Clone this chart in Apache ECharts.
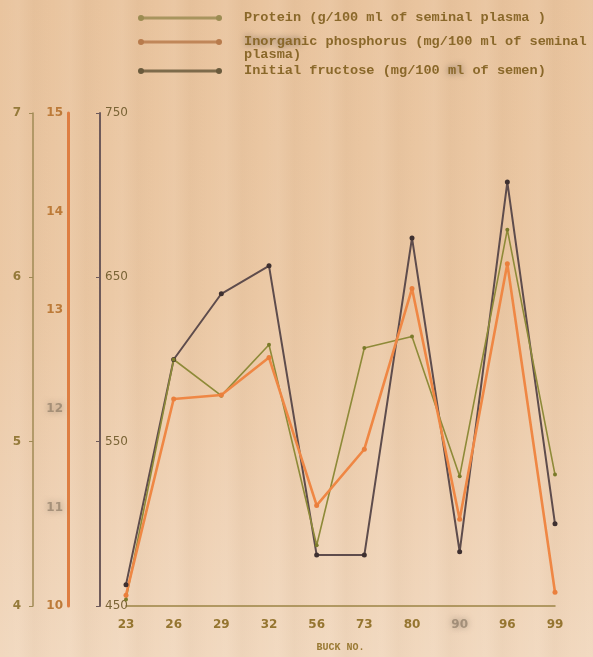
<!DOCTYPE html>
<html>
<head>
<meta charset="utf-8">
<script src="https://cdn.jsdelivr.net/npm/echarts@6/dist/echarts.min.js"></script>
<style>
  html, body { margin: 0; padding: 0; }
  body {
    width: 593px; height: 657px; overflow: hidden;
    background:
      repeating-linear-gradient(to right,
        rgba(255,255,255,0.00) 0px, rgba(255,255,255,0.05) 18px,
        rgba(120,80,40,0.03) 34px, rgba(255,255,255,0.00) 52px),
      linear-gradient(to bottom, #e9c49e 0%, #ebc8a4 45%, #efd2b5 80%, #f1d8be 100%);
  }
  #chart { width: 593px; height: 657px; }
</style>
</head>
<body>
<div id="chart"></div>
<script>
// Buck numbers along the x axis
const buckNo = ['23', '26', '29', '32', '56', '73', '80', '90', '96', '99'];
// Protein, g/100 ml of seminal plasma
const protein = [4.04, 5.50, 5.28, 5.59, 4.37, 5.57, 5.64, 4.79, 6.29, 4.80];
// Inorganic phosphorus, mg/100 ml of seminal plasma
const phosphorus = [10.11, 12.10, 12.14, 12.52, 11.02, 11.59, 13.22, 10.88, 13.47, 10.14];
// Initial fructose, mg/100 ml of semen
const fructose = [463, 600, 640, 657, 481, 481, 674, 483, 708, 500];

// Axis tick values
const proteinTicks = [4, 5, 6, 7];
const phosphorusTicks = [10, 11, 12, 13, 14, 15];
const fructoseTicks = [450, 550, 650, 750];

const cGreen = '#8e8a38';
const cOrange = '#ef8744';
const cDark = '#5e4c4c';
const ink = '#8a682a';

// smudged, barely readable lettering
const smudge = {
  color: 'rgba(128,112,92,0.6)',
  textShadowColor: 'rgba(120,105,88,1)',
  textShadowBlur: 6
};

const chart = echarts.init(document.getElementById('chart'), null, { renderer: 'canvas' });

const legendFont = 'bold 13.6px "Liberation Mono", "DejaVu Sans Mono", monospace';
const legendRows = [
  { y: 18, color: '#9c8c52', text: 'Protein (g/100 ml of seminal plasma )' },
  { y: 42, color: '#b87b4c', text: '{s|Inorgan}ic phosphorus (mg/100 ml of seminal\nplasma)' },
  { y: 71, color: '#6a5a3c', text: 'Initial fructose (mg/100 {s|ml} of semen)' }
];

const graphic = [];
legendRows.forEach(r => {
  graphic.push({
    type: 'line', shape: { x1: 141, y1: r.y, x2: 219, y2: r.y },
    style: { stroke: r.color, lineWidth: 3, opacity: 0.85 }
  });
  graphic.push({ type: 'circle', shape: { cx: 141, cy: r.y, r: 3 }, style: { fill: r.color } });
  graphic.push({ type: 'circle', shape: { cx: 219, cy: r.y, r: 3 }, style: { fill: r.color } });
  graphic.push({
    type: 'text', left: 244, top: r.y - 7,
    style: {
      text: r.text,
      font: legendFont,
      fill: ink, lineHeight: 13,
      rich: { s: Object.assign({ font: legendFont }, smudge) }
    }
  });
});

function yAxis(opts) {
  return Object.assign({
    type: 'value',
    position: 'left',
    splitLine: { show: false }
  }, opts);
}

const labelFont = '"DejaVu Sans", "Liberation Sans", sans-serif';

chart.setOption({
  animation: false,
  backgroundColor: 'transparent',
  grid: { left: 126, right: 38, top: 113, bottom: 46, containLabel: false },
  graphic: graphic,
  xAxis: {
    type: 'category',
    data: buckNo,
    boundaryGap: false,
    axisLine: { lineStyle: { color: '#9c8444', width: 1.5 } },
    axisTick: { show: false },
    axisLabel: {
      interval: 0,
      margin: 13, color: '#957530', fontSize: 12, fontWeight: 'bold', fontFamily: labelFont,
      formatter: v => v === '90' ? '{s|90}' : v,
      rich: { s: Object.assign({ fontSize: 12, fontWeight: 'bold', fontFamily: labelFont }, smudge) }
    },
    name: 'BUCK NO.',
    nameLocation: 'middle',
    nameGap: 36,
    nameTextStyle: { color: '#9a7a34', fontSize: 10, fontFamily: '"Liberation Mono", monospace', fontWeight: 'bold' }
  },
  yAxis: [
    yAxis({
      min: fructoseTicks[0], max: fructoseTicks[fructoseTicks.length - 1], interval: 100,
      offset: 26,
      axisLine: { show: true, lineStyle: { color: '#6e5a5a', width: 2 } },
      axisTick: { show: true, length: 4, lineStyle: { color: '#6e5a5a' } },
      axisLabel: { inside: true, margin: 5, color: '#7a6436', fontSize: 12, fontFamily: labelFont }
    }),
    yAxis({
      min: phosphorusTicks[0], max: phosphorusTicks[phosphorusTicks.length - 1], interval: 1,
      offset: 58,
      axisLine: { show: true, lineStyle: { color: '#de7e42', width: 3 } },
      axisTick: { show: false },
      axisLabel: {
        margin: 5, color: '#bc7a38', fontSize: 12, fontWeight: 'bold', fontFamily: labelFont,
        formatter: v => (v === 11 || v === 12) ? '{s|' + v + '}' : String(v),
        rich: { s: Object.assign({ fontSize: 12, fontWeight: 'bold', fontFamily: labelFont }, smudge) }
      }
    }),
    yAxis({
      min: proteinTicks[0], max: proteinTicks[proteinTicks.length - 1], interval: 1,
      offset: 93,
      axisLine: { show: true, lineStyle: { color: '#a08a55', width: 1.5 } },
      axisTick: { show: true, length: 4, lineStyle: { color: '#a08a55' } },
      axisLabel: { margin: 12, color: '#957a3a', fontSize: 12, fontWeight: 'bold', fontFamily: labelFont }
    })
  ],
  series: [
    {
      name: 'Initial fructose', type: 'line', yAxisIndex: 0, data: fructose,
      symbol: 'circle', symbolSize: 5,
      lineStyle: { color: cDark, width: 2 }, itemStyle: { color: '#3e3030' }
    },
    {
      name: 'Protein', type: 'line', yAxisIndex: 2, data: protein,
      symbol: 'circle', symbolSize: 4,
      lineStyle: { color: cGreen, width: 1.6 }, itemStyle: { color: '#7a7a2a' }
    },
    {
      name: 'Inorganic phosphorus', type: 'line', yAxisIndex: 1, data: phosphorus,
      symbol: 'circle', symbolSize: 5,
      lineStyle: { color: cOrange, width: 2.6 }, itemStyle: { color: '#ea7f3c' }
    }
  ]
});
</script>
</body>
</html>
